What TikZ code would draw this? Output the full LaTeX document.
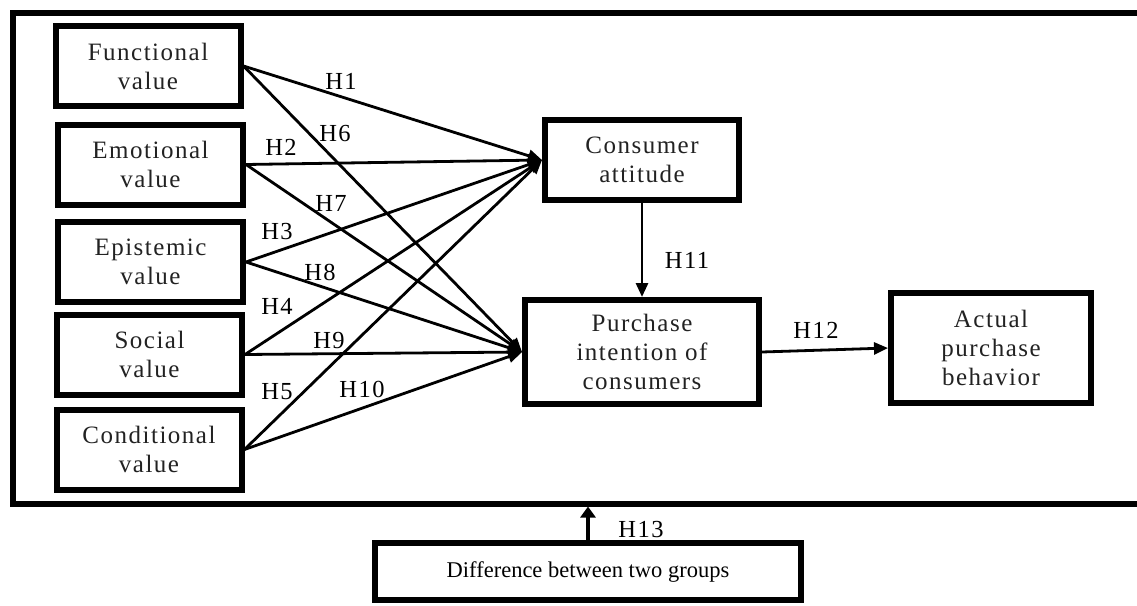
\documentclass[tikz,border=0pt]{standalone}
\usepackage{fontspec}
\setmainfont{Liberation Serif}
\newfontfamily\spaced[LetterSpace=6]{Liberation Serif}
\usetikzlibrary{arrows.meta}
\definecolor{txt}{HTML}{222222}
\begin{document}
\begin{tikzpicture}[x=1pt,y=-1pt,
  vbox/.style={draw, line width=6pt, minimum width=185pt, minimum height=80pt,
    inner sep=0pt, align=center, font=\spaced\fontsize{25}{29}\selectfont, text=txt},
  hlab/.style={font=\spaced\fontsize{24.5}{29}\selectfont, inner sep=0pt, text=black},
  link/.style={line width=2.8pt, -{Triangle[length=14pt,width=12pt]}},
]
\useasboundingbox (0,0) rectangle (1137,605);
% outer frame
\node[draw, line width=6pt, minimum width=1137.5pt, minimum height=491pt, inner sep=0pt] (frame) at (581.25,258) {};
% left boxes
\node[vbox] (fv) at (148,66) {Functional\\value};
\node[vbox] (ev) at (150.5,164.5) {Emotional\\value};
\node[vbox] (epv) at (150.5,262) {Epistemic\\value};
\node[vbox] (sv) at (149.5,354.5) {Social\\value};
\node[vbox] (cv) at (149,449.5) {Conditional\\value};
% right boxes
\node[vbox, minimum width=194pt, minimum height=80pt] (ca) at (642,160) {Consumer\\attitude};
\node[vbox, minimum width=234pt, minimum height=104pt] (pi) at (642,352) {Purchase\\intention of\\consumers};
\node[vbox, minimum width=200pt, minimum height=110pt] (ap) at (991,348) {Actual\\purchase\\behavior};
\node[draw, line width=6pt, minimum width=426pt, minimum height=57pt, inner sep=0pt,
  font=\fontsize{22.5}{29}\selectfont, text=black] (diff) at (588,571.5) {Difference between two groups};
% links to consumer attitude
\draw[link] (fv.east) -- (ca.west);
\draw[link] (ev.east) -- (ca.west);
\draw[link] (epv.east) -- (ca.west);
\draw[link] (sv.east) -- (ca.west);
\draw[link] (cv.east) -- (ca.west);
% links to purchase intention
\draw[link] (fv.east) -- (pi.west);
\draw[link] (ev.east) -- (pi.west);
\draw[link] (epv.east) -- (pi.west);
\draw[link] (sv.east) -- (pi.west);
\draw[link] (cv.east) -- (pi.west);
% other links
\draw[link] (ca.south) -- (pi.north);
\draw[link] (pi.east) -- (ap.west);
\draw[line width=4.5pt, -{Triangle[length=11pt,width=15pt]}] (diff.north) -- (diff.north |- frame.south);
% labels
\node[hlab] (h1) at (341,81) {H1};
\node[hlab] (h6) at (335,133.5) {H6};
\node[hlab] (h2) at (281,147) {H2};
\node[hlab] (h7) at (331,203) {H7};
\node[hlab] (h3) at (277,232) {H3};
\node[hlab] (h8) at (320,272) {H8};
\node[hlab] (h4) at (277,306) {H4};
\node[hlab] (h9) at (329,341) {H9};
\node[hlab] (h5) at (277,392) {H5};
\node[hlab] (h10) at (362,389.5) {H10};
\node[hlab] (h11) at (687,260) {H11};
\node[hlab] (h12) at (816,330) {H12};
\node[hlab] (h13) at (641,530) {H13};
\end{tikzpicture}
\end{document}
